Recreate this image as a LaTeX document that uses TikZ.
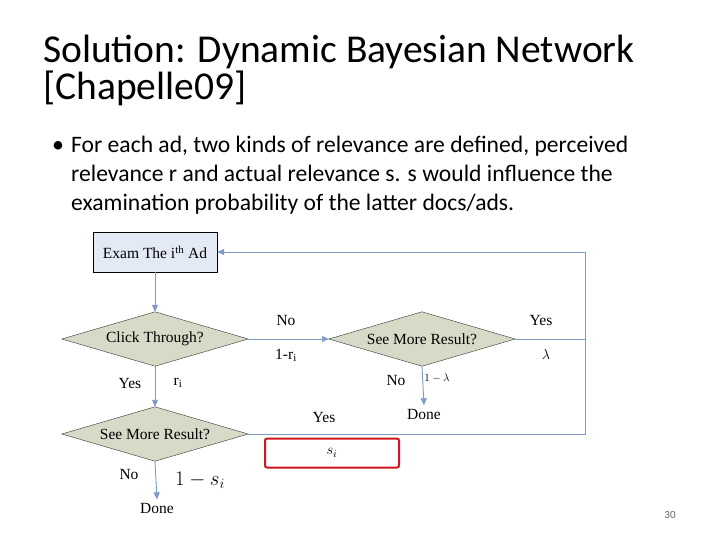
\documentclass[tikz,border=0pt]{standalone}
\usepackage{fontspec}
\setmainfont{Carlito}
\newfontfamily\serf{Liberation Serif}
\usetikzlibrary{shapes.geometric,arrows.meta,backgrounds}
\definecolor{boxfill}{HTML}{E3EAF5}
\definecolor{dfill}{HTML}{D9D9C7}
\definecolor{ln}{HTML}{7F9AC6}
\definecolor{redb}{HTML}{D0161E}
\tikzset{
 dia/.style={rectangle,minimum width=186pt,minimum height=54pt,inner sep=0pt,font=\serf\fontsize{15.5}{15.5}\selectfont},
 diashape/.style={draw=black!80,fill=dfill},
 lab/.style={font=\serf\fontsize{15.5}{15.5}\selectfont},
 conn/.style={draw=ln,line width=0.9pt,-{Triangle[length=7pt,width=6pt]}},
 plain/.style={draw=ln,line width=0.9pt}
}
\begin{document}
\begin{tikzpicture}[x=1pt,y=-1pt]
\useasboundingbox (0,0) rectangle (720,540);
\node[anchor=west,font=\fontsize{39.5}{39.5}\selectfont,inner sep=0pt] (t1) at (43,52) {Solution: Dynamic Bayesian Network};
\node[anchor=west,font=\fontsize{39.5}{39.5}\selectfont,inner sep=0pt] (t2) at (43,88) {[Chapelle09]};
\node[anchor=west,font=\fontsize{24}{24}\selectfont,inner sep=0pt] (bul) at (52,147) {•};
\node[anchor=north west,align=left,font=\fontsize{23.6}{29}\selectfont,inner sep=0pt] (body) at (71,136) {For each ad, two kinds of relevance are defined, perceived\\relevance r and actual relevance s. s would influence the\\examination probability of the latter docs/ads.};
\node[draw=black,fill=boxfill,minimum width=124pt,minimum height=40pt,lab] (exam) at (155,252) {Exam The i\textsuperscript{th} Ad};
\node[dia] (click) at (155,339) {Click Through?};
\node[dia] (more1) at (422,339) {See More Result?};
\node[dia] (more2) at (155,434) {See More Result?};
\begin{pgfonlayer}{background}
\foreach \n in {click,more1,more2}
  \draw[diashape] (\n.north) -- (\n.east) -- (\n.south) -- (\n.west) -- cycle;
\end{pgfonlayer}
\node[lab] (done1) at (424,414) {Done};
\node[lab] (done2) at (157,508) {Done};
\coordinate (c1) at (585,339);
\coordinate (c2) at (585,434);
\coordinate (c3) at (585,252);
\draw[conn] (exam) -- (click);
\draw[conn] (click) -- (more1);
\draw[conn] (click) -- (more2);
\draw[conn] (more1.south) -- (done1.north);
\draw[conn] (more2.south) -- (done2.north);
\draw[plain] (more1.east) -- (c1);
\draw[plain] (more2.east) -- (c2) -- (c3);
\draw[conn] (c3) -- (exam.east);
\node[draw=redb,line width=2pt,rounded corners=2pt,minimum width=134pt,minimum height=29pt,lab] (red) at (332,453) {$s_i$};
\node[lab] (l1) at (286,321) {No};
\node[lab] (l2) at (286,355) {1-r\textsubscript{i}};
\node[lab] (l3) at (541,321) {Yes};
\node[lab] (l4) at (546,354) {$\lambda$};
\node[lab] (l5) at (396,380) {No};
\node[lab,font=\serf\fontsize{11}{11}\selectfont] (l6) at (437,378) {$1-\lambda$};
\node[lab] (l7) at (130,383) {Yes};
\node[lab] (l8) at (178,383) {r\textsubscript{i}};
\node[lab] (l9) at (324,417) {Yes};
\node[lab] (l10) at (129,474) {No};
\node[lab,font=\serf\fontsize{20}{20}\selectfont] (l11) at (200,480) {$1-s_i$};
\node[font=\fontsize{11}{11}\selectfont,text=black!60] (pg) at (670,515) {30};
\end{tikzpicture}
\end{document}
